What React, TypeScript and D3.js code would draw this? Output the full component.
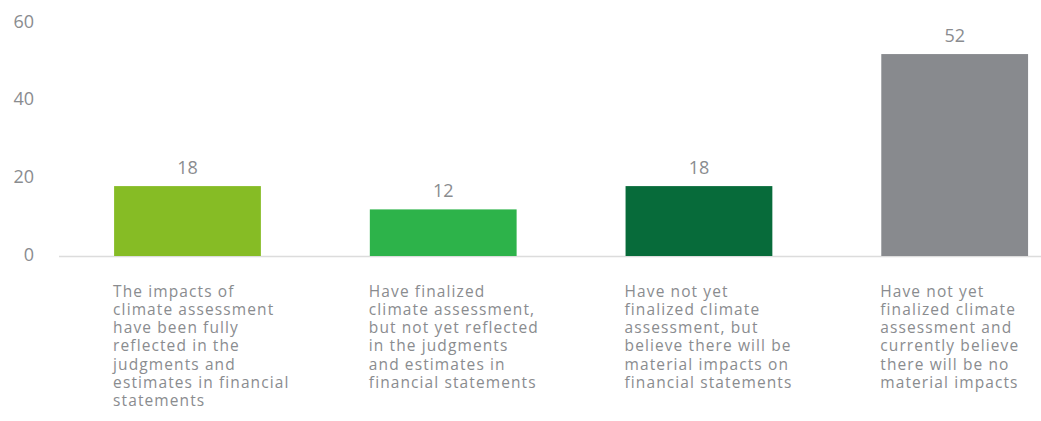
import React from "react";
import * as d3 from "d3";

const categories: string[] = [
  "The impacts of\nclimate assessment\nhave been fully\nreflected in the\njudgments and\nestimates in financial\nstatements",
  "Have finalized\nclimate assessment,\nbut not yet reflected\nin the judgments\nand estimates in\nfinancial statements",
  "Have not yet\nfinalized climate\nassessment, but\nbelieve there will be\nmaterial impacts on\nfinancial statements",
  "Have not yet\nfinalized climate\nassessment and\ncurrently believe\nthere will be no\nmaterial impacts",
];
const values: number[] = [18, 12, 18, 52];
const barColors: string[] = ["#86BC25", "#2DB34A", "#076B3A", "#888A8E"];
const yTicks: number[] = [0, 20, 40, 60];

const W = 1041;
const H = 421;
const FONT = "'Open Sans', 'Noto Sans', sans-serif";
const TEXT = "#8a8c8f";

export default function App() {
  const x = d3
    .scaleBand<number>()
    .domain(d3.range(categories.length))
    .range([59, W])
    .paddingInner(0.426)
    .paddingOuter(0.133)
    .align(0.81);
  const y = d3.scaleLinear().domain([0, 60]).range([256, 23]);
  const lineH = 18.3;

  return (
    <svg
      width={W}
      height={H}
      style={{ position: "absolute", left: 0, top: 0, background: "#fff" }}
      fontFamily={FONT}
    >
      {yTicks.map((t) => (
        <text
          key={t}
          x={34}
          y={y(t) - 2.5}
          textAnchor="end"
          dominantBaseline="central"
          fontSize={18}
          fill={TEXT}
        >
          {t}
        </text>
      ))}
      <line x1={59} x2={W} y1={y(0) + 0.5} y2={y(0) + 0.5} stroke="#dcdcdc" strokeWidth={1.5} />
      {values.map((v, i) => (
        <g key={i}>
          <rect
            x={x(i)}
            y={y(v)}
            width={x.bandwidth()}
            height={y(0) - y(v)}
            fill={barColors[i]}
          />
          <text
            x={(x(i) as number) + x.bandwidth() / 2}
            y={y(v) - 12}
            textAnchor="middle"
            fontSize={18}
            fill={TEXT}
          >
            {v}
          </text>
          {categories[i].split("\n").map((ln, j) => (
            <text
              key={j}
              x={(x(i) as number) - 1}
              y={296.5 + j * lineH}
              fontSize={15.5}
              letterSpacing={1.1}
              fill={TEXT}
            >
              {ln}
            </text>
          ))}
        </g>
      ))}
    </svg>
  );
}
